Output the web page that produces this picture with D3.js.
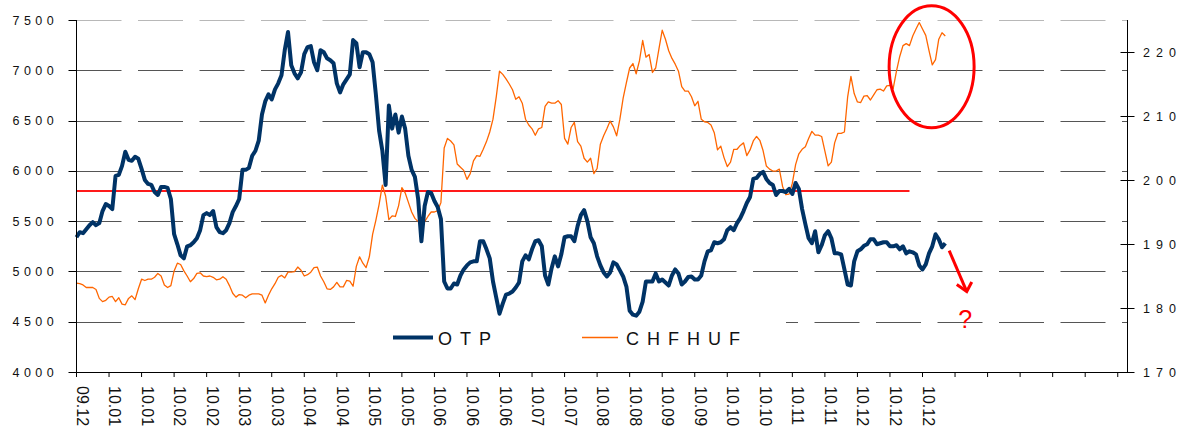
<!DOCTYPE html>
<html>
<head>
<meta charset="utf-8">
<script src="https://cdn.jsdelivr.net/npm/d3@7"></script>
<style>
  html, body { margin: 0; padding: 0; background: #fff; }
  svg { display: block; font-family: "Liberation Sans", Arial, sans-serif; }
</style>
</head>
<body>
<svg id="chart" width="1185" height="426"></svg>
<script>
// x axis: one category per trading day, a tick every 10 days
const tickLabels = ['09.12', '10.01', '10.01', '10.02', '10.02', '10.03', '10.03', '10.04', '10.04',
  '10.05', '10.05', '10.06', '10.06', '10.06', '10.07', '10.07', '10.08', '10.08', '10.09', '10.09',
  '10.10', '10.10', '10.11', '10.11', '10.12', '10.12', '10.12'];
const categoryCount = 324;
const tickEvery = 10;

const leftTicks = [4000, 4500, 5000, 5500, 6000, 6500, 7000, 7500];
const rightTicks = [170, 180, 190, 200, 210, 220];

const otp = [
  5340, 5390, 5380, 5420, 5460, 5490, 5460, 5480, 5600, 5670,
  5650, 5620, 5950, 5960, 6050, 6190, 6110, 6100, 6140, 6120,
  6020, 5910, 5870, 5860, 5790, 5760, 5840, 5840, 5830, 5720,
  5370, 5270, 5160, 5130, 5250, 5260, 5290, 5330, 5410, 5560,
  5580, 5560, 5600, 5440, 5390, 5380, 5410, 5480, 5590, 5650,
  5720, 6010, 6010, 6030, 6150, 6200, 6300, 6560, 6690, 6760,
  6710, 6810, 6870, 6950, 7200, 7380, 7050, 6970, 6920, 6980,
  7160, 7230, 7240, 7080, 7000, 7200, 7180, 7120, 7100, 7070,
  6870, 6780, 6860, 6910, 6960, 7300, 7270, 7030, 7180, 7180,
  7160, 7080, 6760, 6400, 6200, 5860, 6650, 6420, 6560, 6380,
  6540, 6420, 6150, 6010, 5940, 5720, 5300, 5650, 5790, 5780,
  5700, 5640, 5520, 4900, 4830, 4830, 4880, 4870, 4960, 5020,
  5060, 5090, 5100, 5100, 5300, 5300, 5220, 5130, 4900, 4740,
  4580, 4680, 4770, 4780, 4800, 4840, 4890, 5100, 5160, 5120,
  5220, 5300, 5310, 5250, 4960, 4870, 5030, 5150, 5050, 5170,
  5340, 5350, 5350, 5300, 5450, 5560, 5610, 5500, 5340, 5280,
  5150, 5060, 4990, 4950, 4990, 5090, 5070, 5010, 4950, 4850,
  4610, 4570, 4560, 4600, 4700, 4900, 4900, 4900, 4980, 4900,
  4920, 4890, 4860, 4960, 5020, 4980, 4870, 4900, 4945, 4950,
  4920, 4920, 4960, 5100, 5200, 5210, 5290, 5280, 5290, 5320,
  5410, 5440, 5410, 5480, 5530, 5600, 5680, 5740, 5920, 5930,
  5970, 5990, 5920, 5880, 5860, 5760, 5800, 5800, 5790, 5820,
  5770, 5880, 5820, 5620, 5470, 5330, 5280, 5400, 5190, 5260,
  5360, 5400, 5330, 5180, 5180, 5170, 5020, 4870, 4860, 5100,
  5200, 5220, 5255, 5270, 5320, 5320, 5270, 5280, 5290, 5290,
  5250, 5250, 5260, 5220, 5250, 5180, 5200, 5190, 5170, 5060,
  5020, 5070, 5180, 5250, 5370, 5320, 5240, 5280
];

const chfhuf = [
  183.9, 183.8, 183.6, 183.2, 183.2, 183.2, 182.9, 181.5, 181.0, 181.2,
  181.7, 181.8, 181.0, 181.6, 180.6, 180.5, 181.5, 181.9, 181.3, 183.0,
  184.5, 184.3, 184.5, 184.5, 184.8, 185.4, 185.0, 183.6, 183.2, 183.5,
  185.8, 187.0, 186.8, 185.8, 185.0, 184.1, 184.6, 185.4, 185.5, 185.0,
  184.9, 185.0, 184.8, 184.4, 184.5, 184.9, 184.5, 183.5, 182.3, 181.7,
  182.1, 182.0, 181.6, 182.0, 182.2, 182.2, 182.2, 182.0, 180.8, 182.0,
  183.0, 183.8, 184.8, 185.1, 184.7, 185.6, 185.6, 185.7, 186.4, 185.9,
  185.0, 185.2, 185.6, 186.3, 186.4, 185.0, 184.1, 183.0, 182.9, 183.3,
  184.0, 183.3, 183.3, 184.3, 184.2, 183.4, 186.5, 188.0, 187.0, 186.3,
  188.0, 191.5, 193.7, 196.2, 199.2, 197.5, 193.8, 194.4, 194.3, 196.0,
  198.8, 198.0, 196.5, 195.0, 194.0, 193.5, 193.5, 193.5, 194.3, 195.0,
  195.0, 195.2, 196.5, 205.0, 206.5, 206.1, 205.5, 202.5, 202.0, 201.5,
  200.1, 201.0, 203.0, 203.8, 203.7, 204.8, 206.0, 207.5, 209.5, 213.0,
  217.0, 216.5, 215.8, 215.0, 214.1, 212.6, 213.0, 212.0, 209.5, 208.6,
  208.0, 207.0, 208.0, 208.2, 211.5, 212.2, 212.0, 212.0, 212.4, 211.8,
  206.5, 205.6, 208.2, 209.0, 206.0, 205.3, 203.4, 202.8, 203.4, 201.0,
  201.8, 205.6, 206.9, 208.0, 209.2, 208.3, 206.9, 209.5, 212.8, 215.2,
  217.5, 218.2, 216.6, 218.6, 221.8, 219.2, 219.6, 216.8, 217.5, 220.5,
  223.4, 222.0, 220.2, 219.0, 218.1, 217.0, 214.6, 213.9, 213.9, 213.0,
  211.6, 212.3, 209.5, 209.1, 209.0, 208.6, 207.4, 204.7, 205.3, 203.5,
  202.1, 202.8, 204.8, 204.8, 205.4, 205.8, 203.8, 204.7, 206.1, 206.8,
  206.2, 204.6, 202.2, 201.7, 201.4, 201.4, 201.7, 199.0, 197.7, 197.8,
  199.5, 202.4, 204.1, 204.8, 205.2, 206.5, 207.6, 207.0, 207.0, 206.8,
  204.5, 202.2, 202.8, 205.8, 207.3, 207.3, 207.5, 213.0, 216.2, 213.5,
  212.2, 212.1, 213.1, 213.2, 212.5, 213.3, 214.1, 214.2, 213.9, 214.7,
  214.8, 214.3, 217.0, 219.3, 221.0, 221.3, 221.0, 222.5, 223.6, 224.6,
  223.6, 222.6, 220.2, 218.0, 218.8, 222.0, 223.0, 222.5
];

// horizontal red level drawn across the chart
const levelValue = 5800;
const levelEndIndex = 256;

const seriesNames = ['OTP', 'CHFHUF'];
const seriesColors = ['#003366', '#ff6600'];

const svg = d3.select('#chart');
const plot = { left: 76.5, right: 1127.5, top: 20, bottom: 372 };

const x = d3.scaleLinear().domain([0, categoryCount - 1]).range([plot.left, plot.right]);
const yLeft = d3.scaleLinear().domain([4000, 7500]).range([plot.bottom, plot.top]);
const yRight = d3.scaleLinear().domain([170, 225]).range([plot.bottom, plot.top]);

// dashed gridlines
svg.append('g')
  .selectAll('line')
  .data(leftTicks.filter(d => d > 4000))
  .join('line')
  .attr('x1', plot.left)
  .attr('x2', plot.right)
  .attr('y1', d => Math.round(yLeft(d)) + 0.5)
  .attr('y2', d => Math.round(yLeft(d)) + 0.5)
  .attr('stroke', (d, i) => d === 7500 ? '#b8b8b8' : '#555')
  .attr('stroke-width', 1)
  .attr('stroke-dasharray', '45,16.5');

// legend box (white, covers the gridline beneath)
const legend = svg.append('g');
legend.append('rect')
  .attr('x', 355).attr('y', 320)
  .attr('width', 431).attr('height', 36)
  .attr('fill', '#fff');

const legendItems = [
  { x1: 393, x2: 433, tx: 438, width: 4 },
  { x1: 582, x2: 618, tx: 626, width: 1.3 }
];
legendItems.forEach((item, i) => {
  legend.append('line')
    .attr('x1', item.x1).attr('x2', item.x2)
    .attr('y1', 337.5).attr('y2', 337.5)
    .attr('stroke', seriesColors[i])
    .attr('stroke-width', item.width);
  legend.append('text')
    .attr('x', item.tx).attr('y', 345)
    .attr('font-size', 18)
    .attr('letter-spacing', 8)
    .attr('fill', '#111')
    .text(seriesNames[i]);
});

// red level line
svg.append('line')
  .attr('x1', x(0)).attr('x2', x(levelEndIndex))
  .attr('y1', yLeft(levelValue)).attr('y2', yLeft(levelValue))
  .attr('stroke', '#ff1a1a')
  .attr('stroke-width', 2);

// series
const orangeLine = d3.line()
  .x((d, i) => x(i))
  .y(d => yRight(d));
const navyLine = d3.line()
  .x((d, i) => x(i))
  .y(d => yLeft(d));

svg.append('path')
  .datum(chfhuf)
  .attr('d', orangeLine)
  .attr('fill', 'none')
  .attr('stroke', seriesColors[1])
  .attr('stroke-width', 1.3)
  .attr('stroke-linejoin', 'round');

svg.append('path')
  .datum(otp)
  .attr('d', navyLine)
  .attr('fill', 'none')
  .attr('stroke', seriesColors[0])
  .attr('stroke-width', 4)
  .attr('stroke-linejoin', 'round');

// axes
const axes = svg.append('g').attr('stroke', '#000').attr('stroke-width', 1);
axes.append('line')
  .attr('x1', plot.left).attr('x2', plot.left)
  .attr('y1', plot.top).attr('y2', plot.bottom);
axes.append('line')
  .attr('x1', plot.right).attr('x2', plot.right)
  .attr('y1', plot.top).attr('y2', plot.bottom);
axes.append('line')
  .attr('x1', plot.left).attr('x2', plot.right)
  .attr('y1', plot.bottom + 0.5).attr('y2', plot.bottom + 0.5);

axes.selectAll('.lt')
  .data(leftTicks)
  .join('line')
  .attr('class', 'lt')
  .attr('x1', plot.left - 8).attr('x2', plot.left)
  .attr('y1', d => Math.round(yLeft(d)) + 0.5)
  .attr('y2', d => Math.round(yLeft(d)) + 0.5);

axes.selectAll('.rt')
  .data(rightTicks)
  .join('line')
  .attr('class', 'rt')
  .attr('x1', plot.right - 7).attr('x2', plot.right + 7)
  .attr('y1', d => Math.round(yRight(d)) + 0.5)
  .attr('y2', d => Math.round(yRight(d)) + 0.5);

const xTickIdx = d3.range(0, categoryCount, tickEvery);
axes.selectAll('.xt')
  .data(xTickIdx)
  .join('line')
  .attr('class', 'xt')
  .attr('x1', d => x(d)).attr('x2', d => x(d))
  .attr('y1', plot.bottom).attr('y2', plot.bottom + 5);

// axis labels
svg.append('g')
  .selectAll('text')
  .data(leftTicks)
  .join('text')
  .attr('x', 58)
  .attr('y', d => yLeft(d) + 4.5)
  .attr('text-anchor', 'end')
  .attr('font-size', 12.5)
  .attr('letter-spacing', 4.4)
  .attr('fill', '#111')
  .text(d => d);

svg.append('g')
  .selectAll('text')
  .data(rightTicks)
  .join('text')
  .attr('x', 1143)
  .attr('y', d => yRight(d) + 4.5)
  .attr('font-size', 12.5)
  .attr('letter-spacing', 6)
  .attr('fill', '#111')
  .text(d => d);

svg.append('g')
  .selectAll('text')
  .data(tickLabels)
  .join('text')
  .attr('transform', (d, k) => `translate(${x(k * tickEvery)},386) rotate(90)`)
  .attr('font-size', 16)
  .attr('fill', '#111')
  .text(d => d);

// annotations: ellipse around the recent CHFHUF high, arrow + question mark
const notes = svg.append('g')
  .attr('fill', 'none')
  .attr('stroke', '#ff0000')
  .attr('stroke-width', 3);

notes.append('ellipse')
  .attr('cx', x(262.8))
  .attr('cy', yRight(217.7))
  .attr('rx', 42.5)
  .attr('ry', 61);

const arrowFrom = [x(268.2), yLeft(5207)];
const arrowTo = [x(273.6), yLeft(4800)];
notes.append('line')
  .attr('x1', arrowFrom[0]).attr('y1', arrowFrom[1])
  .attr('x2', arrowTo[0]).attr('y2', arrowTo[1]);
notes.append('path')
  .attr('d', `M${arrowTo[0] - 10},${arrowTo[1] - 7}L${arrowTo[0]},${arrowTo[1]}L${arrowTo[0] + 5},${arrowTo[1] - 9.5}`)
  .attr('stroke-linejoin', 'miter');

svg.append('text')
  .attr('x', x(273.1))
  .attr('y', yLeft(4440))
  .attr('text-anchor', 'middle')
  .attr('font-size', 25)
  .attr('fill', '#ff0000')
  .text('?');
</script>
</body>
</html>
